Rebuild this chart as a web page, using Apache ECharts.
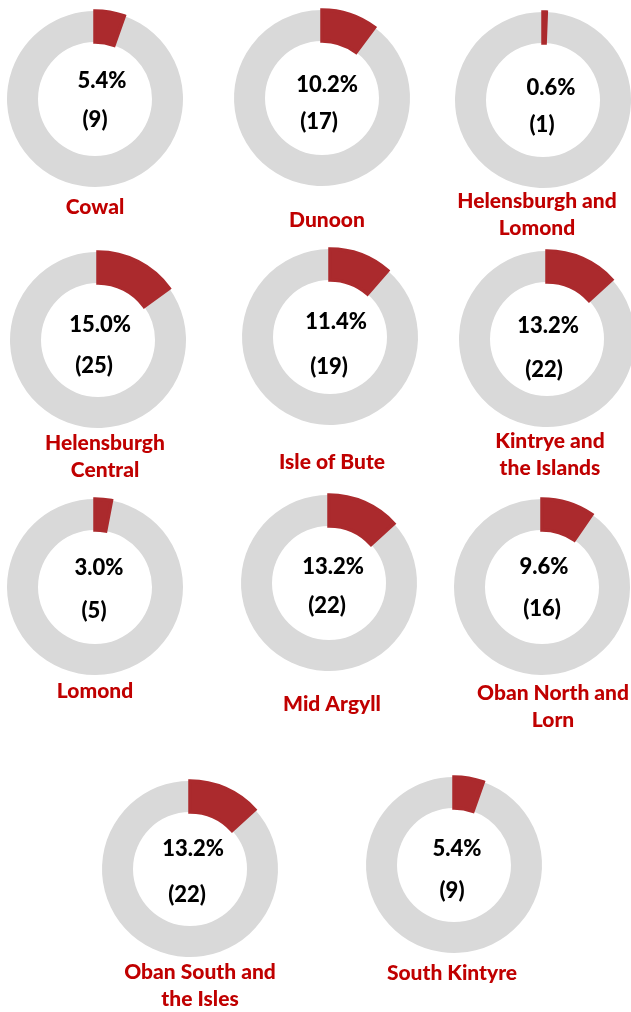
<!DOCTYPE html>
<html>
<head>
<meta charset="utf-8">
<script src="https://cdn.jsdelivr.net/npm/echarts@6/dist/echarts.min.js"></script>
<style>
  html, body { margin: 0; padding: 0; background: #ffffff; }
  #chart { width: 631px; height: 1012px; }
</style>
</head>
<body>
<div id="chart"></div>
<script>
// Share of cases by area (percent of total) and the case counts behind them
const areas = [
  'Cowal', 'Dunoon', 'Helensburgh and\nLomond',
  'Helensburgh\nCentral', 'Isle of Bute', 'Kintrye and\nthe Islands',
  'Lomond', 'Mid Argyll', 'Oban North and\nLorn',
  'Oban South and\nthe Isles', 'South Kintyre'
];
const percents = [5.4, 10.2, 0.6, 15.0, 11.4, 13.2, 3.0, 13.2, 9.6, 13.2, 5.4];
const counts = [9, 17, 1, 25, 19, 22, 5, 22, 16, 22, 9];

// Placement of each ring: centre, percent text, count text, area name
const layout = [
  { c: [95, 99],  pct: [102, 81],  cnt: [95, 120],  name: [95, 207] },
  { c: [322, 98], pct: [327, 85],  cnt: [319, 122], name: [327, 220] },
  { c: [543, 100], pct: [551, 88], cnt: [542, 125], name: [537, 215] },
  { c: [98, 340], pct: [100, 325], cnt: [94, 366],  name: [105, 457] },
  { c: [330, 337], pct: [336, 322], cnt: [329, 367], name: [332, 462] },
  { c: [547, 339], pct: [548, 326], cnt: [544, 370], name: [550, 455] },
  { c: [95, 587], pct: [99, 568],  cnt: [94, 611],  name: [95, 691] },
  { c: [329, 583], pct: [333, 567], cnt: [327, 606], name: [332, 704] },
  { c: [542, 587], pct: [544, 567], cnt: [542, 609], name: [553, 707] },
  { c: [190, 869], pct: [193, 849], cnt: [187, 895], name: [200, 986] },
  { c: [454, 865], pct: [457, 849], cnt: [452, 891], name: [452, 973] }
];

const RED = '#AB2A2D';
const GREY = '#D9D9D9';
const FONT = 'Lato, "Open Sans", sans-serif';

const series = [];
const graphics = [];

areas.forEach((area, i) => {
  const p = percents[i];
  const L = layout[i];
  // remainder first so the highlighted slice and its outline are painted on top;
  // rotate the start so the highlighted slice begins at twelve o'clock
  series.push({
    type: 'pie',
    silent: true,
    animation: false,
    clockwise: true,
    startAngle: 90 - 3.6 * p,
    center: L.c,
    radius: [57, 88],
    label: { show: false },
    labelLine: { show: false },
    data: [
      { name: 'rest', value: 100 - p, itemStyle: { color: GREY, borderWidth: 0 } },
      { name: area, value: p, itemStyle: { color: RED, borderColor: RED, borderWidth: 3.5, borderJoin: 'miter' } }
    ]
  });
  graphics.push({
    type: 'text', x: L.pct[0], y: L.pct[1], silent: true,
    style: { text: p.toFixed(1) + '%', fill: '#000', font: '900 22px ' + FONT, textAlign: 'center', textVerticalAlign: 'middle' }
  });
  graphics.push({
    type: 'text', x: L.cnt[0], y: L.cnt[1], silent: true,
    style: { text: '(' + counts[i] + ')', fill: '#000', font: '900 22px ' + FONT, textAlign: 'center', textVerticalAlign: 'middle' }
  });
  graphics.push({
    type: 'text', x: L.name[0], y: L.name[1], silent: true,
    style: { text: area, fill: '#C00000', font: '900 21px ' + FONT, lineHeight: 27, textAlign: 'center', textVerticalAlign: 'middle' }
  });
});

const chart = echarts.init(document.getElementById('chart'), null, { renderer: 'canvas' });
chart.setOption({
  backgroundColor: '#ffffff',
  animation: false,
  series: series,
  graphic: graphics
});
</script>
</body>
</html>
